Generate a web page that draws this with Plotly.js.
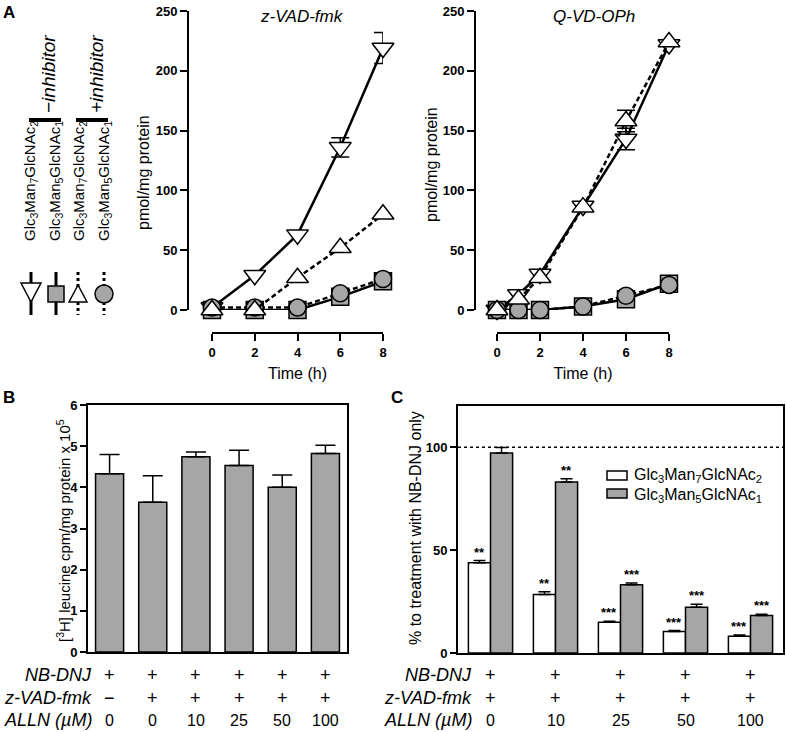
<!DOCTYPE html>
<html><head><meta charset="utf-8">
<script src="https://cdn.plot.ly/plotly-3.0.1.min.js"></script>
<style>html,body{margin:0;padding:0;background:#fff}#chart{width:786px;height:732px}</style>
</head><body><div id="chart"></div>
<script>
const FONT = 'Liberation Sans, Arial, Helvetica, sans-serif';
const GREY = '#a6a6a6';

// ---------- Panel A data ----------
const timeTicks = [0, 2, 4, 6, 8];
const pmolTicks = [0, 50, 100, 150, 200, 250];

const zvadTime = [0, 2, 4, 6, 8];
const zvadMan7Minus = [2, 29, 63, 136, 219];
const zvadMan7MinusErr = [NaN, NaN, NaN, 8, 13];
const zvadMan5Minus = [0, 0, 0, 11, 24];
const zvadMan5Plus = [2, 2, 2, 14, 26];
const zvadMan7Plus = [0, 0, 27, 52, 80];

const qvdTime = [0, 1, 2, 4, 6, 8];
const qvdMan7Minus = [0, 13, 30, 87, 143, 222];
const qvdMan7MinusErr = [NaN, NaN, NaN, NaN, 9, NaN];
const qvdMan5Minus = [0, 0, 0, 3, 9, 22];
const qvdMan5Plus = [0, 0, 0, 3, 12, 21];
const qvdMan7Plus = [0, 9, 27, 86, 158, 224];
const qvdMan7PlusErr = [NaN, NaN, NaN, NaN, 9, NaN];

const nameMan7 = 'Glc<sub>3</sub>Man<sub>7</sub>GlcNAc<sub>2</sub>';
const nameMan5 = 'Glc<sub>3</sub>Man<sub>5</sub>GlcNAc<sub>1</sub>';

// ---------- Panel B data ----------
const bNBDNJ = ['+', '+', '+', '+', '+', '+'];
const bZVAD = ['\u2212', '+', '+', '+', '+', '+'];
const bALLN = ['0', '0', '10', '25', '50', '100'];
const bLeucine = [4.33, 3.64, 4.74, 4.53, 4.00, 4.82];
const bLeucineErr = [0.47, 0.64, 0.12, 0.37, 0.30, 0.20];
const bTicks = [0, 1, 2, 3, 4, 5, 6];

// ---------- Panel C data ----------
const cNBDNJ = ['+', '+', '+', '+', '+'];
const cZVAD = ['+', '+', '+', '+', '+'];
const cALLN = ['0', '10', '25', '50', '100'];
const cMan7 = [43.8, 28.4, 14.9, 10.5, 8.1];
const cMan7Err = [1.1, 1.3, 0.5, 0.4, 0.7];
const cMan5 = [97.2, 83.1, 33.2, 22.2, 18.2];
const cMan5Err = [2.6, 1.5, 0.8, 1.5, 0.6];
const cMan7Sig = ['**', '**', '***', '***', '***'];
const cMan5Sig = ['', '**', '***', '***', '***'];
const cTicks = [0, 50, 100];
const cReference = 100;
const rowLabels = ['<i>NB-DNJ</i>', '<i>z-VAD-fmk</i>', '<i>ALLN (\u00b5M)</i>'];

// ---------- geometry helpers (figure pixels -> paper) ----------
const W = 786, H = 732;
const px = v => v / W;
const py = v => 1 - v / H;

const DASH = '5px,3px';
function aTrace(x, y, err, sym, fill, dash, xa, ya, name) {
  const size = sym.indexOf('triangle') === 0 ? 19 : 17;
  const t = {
    type: 'scatter', mode: 'lines+markers', x: x, y: y, xaxis: xa, yaxis: ya,
    name: name, showlegend: false, cliponaxis: false, hoverinfo: 'skip',
    line: {color: '#000', width: 2.5, dash: dash},
    marker: {symbol: sym, size: size, color: fill, line: {color: '#000', width: 1.5}}
  };
  if (err) t.error_y = {type: 'data', array: err, visible: true, color: '#000', thickness: 1.5, width: 9};
  return t;
}

const traces = [
  aTrace(zvadTime, zvadMan7Minus, zvadMan7MinusErr, 'triangle-down', '#fff', 'solid', 'x', 'y', nameMan7 + ' \u2212inhibitor'),
  aTrace(zvadTime, zvadMan5Minus, null, 'square', GREY, 'solid', 'x', 'y', nameMan5 + ' \u2212inhibitor'),
  aTrace(zvadTime, zvadMan5Plus, null, 'circle', GREY, DASH, 'x', 'y', nameMan5 + ' +inhibitor'),
  aTrace(zvadTime, zvadMan7Plus, null, 'triangle-up', '#fff', DASH, 'x', 'y', nameMan7 + ' +inhibitor'),
  aTrace(qvdTime, qvdMan7Minus, qvdMan7MinusErr, 'triangle-down', '#fff', 'solid', 'x2', 'y2', nameMan7 + ' \u2212inhibitor'),
  aTrace(qvdTime, qvdMan5Minus, null, 'square', GREY, 'solid', 'x2', 'y2', nameMan5 + ' \u2212inhibitor'),
  aTrace(qvdTime, qvdMan5Plus, null, 'circle', GREY, DASH, 'x2', 'y2', nameMan5 + ' +inhibitor'),
  aTrace(qvdTime, qvdMan7Plus, qvdMan7PlusErr, 'triangle-up', '#fff', DASH, 'x2', 'y2', nameMan7 + ' +inhibitor'),
  {
    type: 'bar', x: bLeucine.map((_, i) => i), y: bLeucine, xaxis: 'x3', yaxis: 'y3',
    width: 0.65, showlegend: false, hoverinfo: 'skip',
    marker: {color: GREY, line: {color: '#000', width: 1.5}},
    error_y: {type: 'data', symmetric: false, array: bLeucineErr, arrayminus: bLeucineErr.map(() => 0),
      visible: true, color: '#000', thickness: 1.5, width: 10}
  },
  {
    type: 'bar', name: nameMan7, x: cMan7.map((_, i) => i), y: cMan7, xaxis: 'x4', yaxis: 'y4',
    width: 0.34, offset: -0.34, showlegend: false, hoverinfo: 'skip',
    marker: {color: '#fff', line: {color: '#000', width: 1.5}},
    error_y: {type: 'data', symmetric: false, array: cMan7Err, arrayminus: cMan7Err.map(() => 0),
      visible: true, color: '#000', thickness: 1.5, width: 6}
  },
  {
    type: 'bar', name: nameMan5, x: cMan5.map((_, i) => i), y: cMan5, xaxis: 'x4', yaxis: 'y4',
    width: 0.34, offset: 0, showlegend: false, hoverinfo: 'skip',
    marker: {color: GREY, line: {color: '#000', width: 1.5}},
    error_y: {type: 'data', symmetric: false, array: cMan5Err, arrayminus: cMan5Err.map(() => 0),
      visible: true, color: '#000', thickness: 1.5, width: 6}
  }
];

const tickBold = {family: FONT, size: 13, color: '#000', weight: 'bold'};
const lineAx = {showline: true, linewidth: 2, linecolor: '#000', ticks: 'outside', ticklen: 7,
  tickwidth: 2, tickcolor: '#000', showgrid: false, zeroline: false, tickfont: tickBold, fixedrange: true};

function timeAxis(l, r) {
  return Object.assign({}, lineAx, {
    domain: [px(l), px(r)], range: [0, 8], anchor: 'free', position: py(333),
    tickvals: timeTicks, ticktext: timeTicks.map(String),
    title: {text: 'Time (h)', font: {family: FONT, size: 16, color: '#000'}, standoff: 8}
  });
}
function pmolAxis(pos) {
  return Object.assign({}, lineAx, {
    domain: [py(310), py(11)], range: [0, 250], anchor: 'free', position: px(pos),
    tickvals: pmolTicks, ticktext: pmolTicks.map(String)
  });
}

const annotations = [];
function ann(o) {
  annotations.push(Object.assign({showarrow: false, xanchor: 'center', yanchor: 'middle',
    font: {family: FONT, size: 15, color: '#000'}}, o));
}
const f = (size, extra) => Object.assign({family: FONT, size: size, color: '#000'}, extra || {});

// panel letters
ann({text: '<b>A</b>', xref: 'paper', yref: 'paper', x: px(9), y: py(13), font: f(17)});
ann({text: '<b>B</b>', xref: 'paper', yref: 'paper', x: px(9), y: py(397), font: f(17)});
ann({text: '<b>C</b>', xref: 'paper', yref: 'paper', x: px(397), y: py(397), font: f(17)});
// panel A subtitles
ann({text: '<i>z-VAD-fmk</i>', xref: 'paper', yref: 'paper', x: px(302), y: py(17), font: f(17)});
ann({text: '<i>Q-VD-OPh</i>', xref: 'paper', yref: 'paper', x: px(594), y: py(17), font: f(17)});
// y axis titles
ann({text: 'pmol/mg protein', xref: 'paper', yref: 'paper', x: px(143), y: py(173), textangle: -90, font: f(16)});
ann({text: 'pmol/mg protein', xref: 'paper', yref: 'paper', x: px(432), y: py(165), textangle: -90, font: f(16)});
ann({text: '[<sup>3</sup>H] leucine cpm/mg protein x 10<sup>5</sup>', xref: 'paper', yref: 'paper', x: px(63), y: py(530), textangle: -90, font: f(15)});
ann({text: '% to treatment with NB-DNJ only', xref: 'paper', yref: 'paper', x: px(415), y: py(528), textangle: -90, font: f(16)});
// panel A symbol key texts (rotated)
const legX = [30, 55, 79, 104];
const legNames = [nameMan7, nameMan5, nameMan7, nameMan5];
legNames.forEach((t, i) => ann({text: t, xref: 'paper', yref: 'paper', x: px(legX[i]), y: py(181), textangle: -90, font: f(15)}));
ann({text: '<i>\u2212inhibitor</i>', xref: 'paper', yref: 'paper', x: px(48), y: py(74), textangle: -90, font: f(19)});
ann({text: '<i>+inhibitor</i>', xref: 'paper', yref: 'paper', x: px(96), y: py(74), textangle: -90, font: f(19)});
// panel C key texts
ann({text: nameMan7, xref: 'paper', yref: 'paper', x: px(632), xanchor: 'left', y: py(476), font: f(16)});
ann({text: nameMan5, xref: 'paper', yref: 'paper', x: px(632), xanchor: 'left', y: py(495), font: f(16)});

// category rows under B and C
const rowY = [675, 698, 720];
const rowFont = f(18);
const valFont = f(16);
[bNBDNJ, bZVAD, bALLN].forEach((row, r) => {
  ann({text: rowLabels[r], xref: 'paper', yref: 'paper', x: px(94), xanchor: 'right', y: py(rowY[r]), font: rowFont});
  row.forEach((v, i) => ann({text: v, xref: 'x3', yref: 'paper', x: i, y: py(rowY[r]), font: r === 2 ? valFont : rowFont}));
});
[cNBDNJ, cZVAD, cALLN].forEach((row, r) => {
  ann({text: rowLabels[r], xref: 'paper', yref: 'paper', x: px(474), xanchor: 'right', y: py(rowY[r]), font: rowFont});
  row.forEach((v, i) => ann({text: v, xref: 'x4', yref: 'paper', x: i, y: py(rowY[r]), font: r === 2 ? valFont : rowFont}));
});
// significance stars
const starFont = f(13, {weight: 'bold'});
cMan7Sig.forEach((s, i) => { if (s) ann({text: s, xref: 'x4', yref: 'y4', x: i - 0.17, y: cMan7[i] + cMan7Err[i], yanchor: 'bottom', yshift: -1, font: starFont}); });
cMan5Sig.forEach((s, i) => { if (s) ann({text: s, xref: 'x4', yref: 'y4', x: i + 0.17, y: cMan5[i] + cMan5Err[i], yanchor: 'bottom', yshift: -1, font: starFont}); });

// decorative keys
const P = (x, y) => px(x) + ',' + py(y);
const pp = {xref: 'paper', yref: 'paper'};
const shapes = [
  Object.assign({type: 'line', x0: px(29), x1: px(61), y0: py(120), y1: py(120), line: {color: '#000', width: 4}}, pp),
  Object.assign({type: 'line', x0: px(76), x1: px(108), y0: py(120), y1: py(120), line: {color: '#000', width: 4}}, pp),
  Object.assign({type: 'line', x0: px(31), x1: px(31), y0: py(272), y1: py(315), line: {color: '#000', width: 3}}, pp),
  Object.assign({type: 'line', x0: px(56), x1: px(56), y0: py(272), y1: py(315), line: {color: '#000', width: 3}}, pp),
  Object.assign({type: 'line', x0: px(78), x1: px(78), y0: py(272), y1: py(315), line: {color: '#000', width: 3, dash: 'dot'}}, pp),
  Object.assign({type: 'line', x0: px(104), x1: px(104), y0: py(272), y1: py(315), line: {color: '#000', width: 3, dash: 'dot'}}, pp),
  Object.assign({type: 'path', path: 'M' + P(21, 283) + 'L' + P(41, 283) + 'L' + P(31, 302) + 'Z', fillcolor: '#fff', line: {color: '#000', width: 1.5}}, pp),
  Object.assign({type: 'rect', x0: px(48), x1: px(64), y0: py(286), y1: py(302), fillcolor: GREY, line: {color: '#000', width: 1.5}}, pp),
  Object.assign({type: 'path', path: 'M' + P(69, 302) + 'L' + P(87, 302) + 'L' + P(78, 285) + 'Z', fillcolor: '#fff', line: {color: '#000', width: 1.5}}, pp),
  Object.assign({type: 'circle', x0: px(95), x1: px(113), y0: py(285), y1: py(303), fillcolor: GREY, line: {color: '#000', width: 1.5}}, pp),
  // panel C key swatches
  Object.assign({type: 'rect', x0: px(607), x1: px(627), y0: py(471), y1: py(480), fillcolor: '#fff', line: {color: '#000', width: 1.5}}, pp),
  Object.assign({type: 'rect', x0: px(607), x1: px(627), y0: py(489), y1: py(498), fillcolor: GREY, line: {color: '#000', width: 1.5}}, pp),
  // reference line at 100% in panel C
  {type: 'line', xref: 'x4 domain', yref: 'y4', x0: 0, x1: 1, y0: cReference, y1: cReference, line: {color: '#000', width: 1.5, dash: 'dot'}, layer: 'below'}
];

const boxAx = {showline: true, mirror: true, linewidth: 2, linecolor: '#000', showgrid: false, zeroline: false, fixedrange: true};

const layout = {
  width: W, height: H, margin: {l: 0, r: 0, t: 0, b: 0},
  paper_bgcolor: '#fff', plot_bgcolor: 'rgba(0,0,0,0)',
  font: {family: FONT, size: 13, color: '#000'},
  showlegend: false,
  xaxis: timeAxis(212, 383),
  yaxis: pmolAxis(188),
  xaxis2: timeAxis(497, 669),
  yaxis2: pmolAxis(475),
  xaxis3: Object.assign({}, boxAx, {domain: [px(88), px(347)], range: [-0.5, 5.5], anchor: 'y3', ticks: '', showticklabels: false}),
  yaxis3: Object.assign({}, boxAx, {domain: [py(652), py(405)], range: [0, 6], anchor: 'x3',
    ticks: 'outside', ticklen: 6, tickwidth: 2, tickcolor: '#000', tickvals: bTicks, ticktext: bTicks.map(String), tickfont: tickBold}),
  xaxis4: Object.assign({}, boxAx, {domain: [px(458), px(783)], range: [-0.5, 4.5], anchor: 'y4', ticks: '', showticklabels: false}),
  yaxis4: Object.assign({}, boxAx, {domain: [py(653), py(406)], range: [0, 120], anchor: 'x4',
    ticks: 'outside', ticklen: 6, tickwidth: 2, tickcolor: '#000', tickvals: cTicks, ticktext: cTicks.map(String), tickfont: tickBold}),
  annotations: annotations,
  shapes: shapes
};

Plotly.newPlot('chart', traces, layout, {displayModeBar: false, staticPlot: true});
</script></body></html>
